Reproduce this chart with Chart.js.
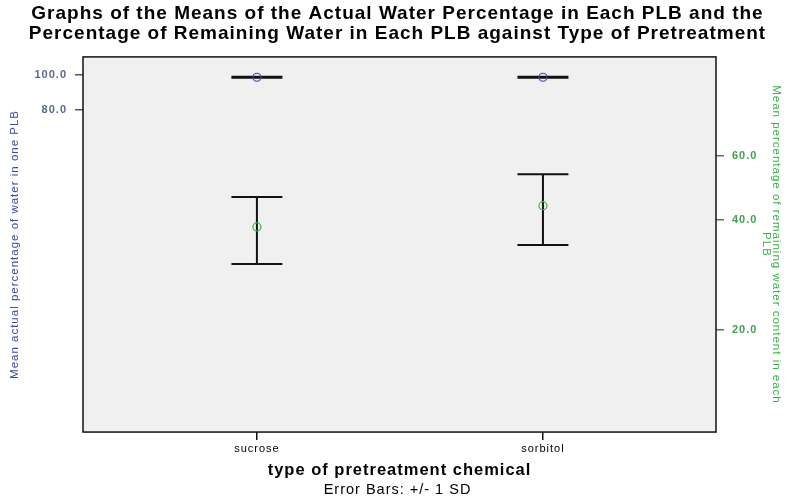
<!DOCTYPE html>
<html>
<head>
<meta charset="utf-8">
<script src="https://cdn.jsdelivr.net/npm/chart.js@4.4.1/dist/chart.umd.min.js"></script>
<style>
  html, body { margin: 0; padding: 0; background: #fff; }
  #wrap { width: 795px; height: 501px; }
</style>
</head>
<body>
<div id="wrap"><canvas id="chart"></canvas></div>
<script>
// data
var categories = ["sucrose", "sorbitol"];
var actualMean = [98.5, 98.5];       // left axis, blue
var actualSd = [0.3, 0.3];
var remainingMean = [38.3, 43.8];    // right axis, green
var remainingSd = [8.0, 9.6];
var leftTicks = [80, 100];
var rightTicks = [20, 40, 60];

var axisMin = 10.5;
var axisMax = 112;

var blue = "#3a4a9c";
var green = "#3cb04a";

function points(vals){
  var out = [];
  for (var i = 0; i < vals.length; i++) {
    out.push({x: i, y: vals[i]});
  }
  return out;
}

// plot background, frame and the +/- 1 SD bars
var frame = {
  id: "frame",
  beforeDraw: function(chart){
    var a = chart.chartArea, c = chart.ctx;
    // spss output has loose letter spacing
    c.letterSpacing = "1px";
    c.save();
    c.fillStyle = "#f0f0f0";
    c.fillRect(a.left, a.top, a.right - a.left, a.bottom - a.top);
    c.restore();
  },
  beforeDatasetsDraw: function(chart){
    var c = chart.ctx;
    var xs = chart.scales.x;
    var sets = [
      {scale: chart.scales.y, mean: actualMean, sd: actualSd},
      {scale: chart.scales.y2, mean: remainingMean, sd: remainingSd}
    ];
    c.save();
    c.strokeStyle = "#111";
    c.lineWidth = 2;
    sets.forEach(function(s){
      for (var i = 0; i < s.mean.length; i++) {
        var px = xs.getPixelForValue(i);
        var top = s.scale.getPixelForValue(s.mean[i] + s.sd[i]);
        var bot = s.scale.getPixelForValue(s.mean[i] - s.sd[i]);
        c.beginPath();
        c.moveTo(px, top); c.lineTo(px, bot);
        c.moveTo(px - 25.5, top); c.lineTo(px + 25.5, top);
        c.moveTo(px - 25.5, bot); c.lineTo(px + 25.5, bot);
        c.stroke();
      }
    });
    c.restore();
  },
  afterDraw: function(chart){
    var a = chart.chartArea, c = chart.ctx;
    c.save();
    c.strokeStyle = "#111";
    c.lineWidth = 1.5;
    c.strokeRect(a.left, a.top, a.right - a.left, a.bottom - a.top);
    c.restore();
  }
};

new Chart(document.getElementById("chart"), {
  type: "scatter",
  data: {
    datasets: [{
        label: "actual",
        data: points(actualMean),
        yAxisID: "y",
        borderColor: blue,
        backgroundColor: "rgba(0,0,0,0)",
        borderWidth: 1.2,
        pointRadius: 4
      }, {
        label: "remaining",
        data: points(remainingMean),
        yAxisID: "y2",
        borderColor: green,
        backgroundColor: "rgba(0,0,0,0)",
        borderWidth: 1.2,
        pointRadius: 4
      }
    ]
  },
  options: {
    responsive: true,
    maintainAspectRatio: false,
    animation: false,
    layout: { padding: 0 },
    plugins: {
      legend: { display: false },
      tooltip: { enabled: false },
      title: {
        display: true,
        text: ["Graphs of the Means of the Actual Water Percentage in Each PLB and the",
               "Percentage of Remaining Water in Each PLB against Type of Pretreatment"],
        color: "#000",
        font: { family: "Liberation Sans", size: 19, weight: "bold", lineHeight: 1.05 },
        padding: { top: 4, bottom: 13 }
      },
      subtitle: {
        display: true,
        position: "bottom",
        text: "Error Bars: +/- 1 SD",
        color: "#000",
        font: { family: "Liberation Sans", size: 14.5, weight: "normal", lineHeight: 1.1 },
        padding: { top: 0, bottom: 3 }
      }
    },
    scales: {
      x: {
        type: "linear",
        min: -0.608,
        max: 1.605,
        afterBuildTicks: function(s){ s.ticks = [{value: 0}, {value: 1}]; },
        afterFit: function(s){ s.height = 50; },
        grid: { drawOnChartArea: false, drawTicks: true, tickLength: 8, tickColor: "#111", lineWidth: 1.5 },
        border: { display: false },
        ticks: {
          color: "#000",
          padding: 2,
          font: { family: "Liberation Sans", size: 11 },
          callback: function(v){ return categories[v]; }
        },
        title: {
          display: true,
          text: "type of pretreatment chemical",
          color: "#000",
          font: { family: "Liberation Sans", size: 16.5, weight: "bold" },
          padding: { top: 0, bottom: 2 }
        }
      },
      y: {
        type: "logarithmic",
        position: "left",
        min: axisMin,
        max: axisMax,
        afterBuildTicks: function(s){ s.ticks = leftTicks.map(function(v){ return {value: v}; }); },
        afterFit: function(s){ s.width = 83; },
        grid: { drawOnChartArea: false, drawTicks: true, tickLength: 8, tickColor: "#556", lineWidth: 1.5 },
        border: { display: false },
        ticks: {
          color: "#5a6896",
          padding: 8,
          font: { family: "Liberation Sans", size: 11, weight: "bold" },
          callback: function(v){ return Number(v).toFixed(1); }
        },
        title: {
          display: true,
          text: "Mean actual percentage of water in one PLB",
          color: blue,
          font: { family: "Liberation Sans", size: 11.5 },
          padding: { top: 8, bottom: 0 }
        }
      },
      y2: {
        type: "logarithmic",
        position: "right",
        min: axisMin,
        max: axisMax,
        afterBuildTicks: function(s){ s.ticks = rightTicks.map(function(v){ return {value: v}; }); },
        afterFit: function(s){ s.width = 79; },
        grid: { drawOnChartArea: false, drawTicks: true, tickLength: 8, tickColor: "#3a8a44", lineWidth: 1.5 },
        border: { display: false },
        ticks: {
          color: "#44a050",
          padding: 8,
          font: { family: "Liberation Sans", size: 11, weight: "bold" },
          callback: function(v){ return Number(v).toFixed(1); }
        },
        title: {
          display: true,
          text: ["Mean percentage of remaining water content in each", "PLB"],
          color: green,
          font: { family: "Liberation Sans", size: 11.5, lineHeight: 0.85 },
          padding: { top: 14, bottom: 0 }
        }
      }
    }
  },
  plugins: [frame]
});
</script>
</body>
</html>
